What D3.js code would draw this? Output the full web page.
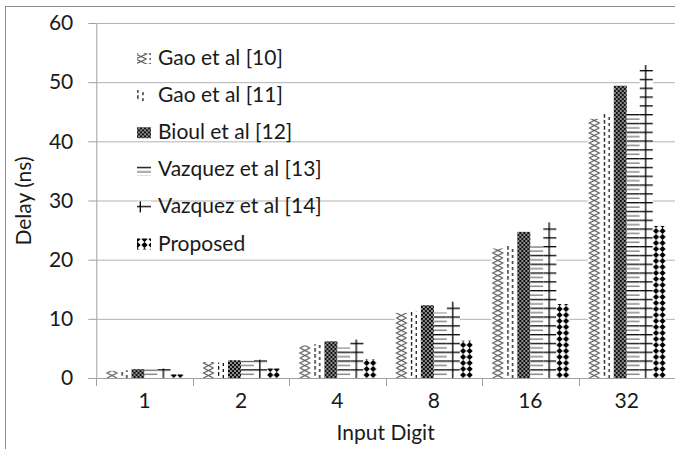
<!DOCTYPE html>
<html>
<head>
<meta charset="utf-8">
<script src="https://cdn.jsdelivr.net/npm/d3@7"></script>
<style>
  body { margin: 0; background: #fff; }
  text { font-family: Lato, "Open Sans", sans-serif; fill: #1a1a1a; }
</style>
</head>
<body>
<div id="chart"></div>
<script>
// data
var categories = ["1", "2", "4", "8", "16", "32"];
var seriesNames = ["Gao et al [10]", "Gao et al [11]", "Bioul et al [12]", "Vazquez et al [13]", "Vazquez et al [14]", "Proposed"];
var gao10    = [1.2, 2.7, 5.5, 11.0, 21.9, 43.8];
var gao11    = [1.3, 2.6, 5.7, 11.2, 22.3, 44.6];
var bioul12  = [1.5, 3.0, 6.2, 12.3, 24.7, 49.4];
var vazq13   = [1.4, 2.9, 5.2, 11.1, 22.2, 45.1];
var vazq14   = [1.6, 3.1, 6.5, 12.9, 26.3, 52.9];
var proposed = [0.6, 1.6, 3.2, 6.3, 12.5, 25.7];
var yTicks = [0, 10, 20, 30, 40, 50, 60];

var seriesValues = [gao10, gao11, bioul12, vazq13, vazq14, proposed];

var W = 675, H = 449;
var margin = {top: 23, right: 0, bottom: 71, left: 96.3}; // plot box 96..675 x 23..378
var plotW = W - margin.left - margin.right;
var plotH = H - margin.top - margin.bottom;
var fs = 21;

var svg = d3.select("#chart").append("svg")
    .attr("width", W)
    .attr("height", H);

var defs = svg.append("defs");

// outer chart frame
svg.append("rect")
    .attr("x", 5.5).attr("y", 6.5)
    .attr("width", 720).attr("height", 500)
    .attr("fill", "none")
    .attr("stroke", "#8c8c8c");

var x0 = d3.scaleBand().domain(categories).range([margin.left, margin.left + plotW]).padding(0);
var x1 = d3.scaleBand().domain(d3.range(seriesNames.length)).range([0, x0.bandwidth()]).paddingInner(0).paddingOuter(0.71);
var y = d3.scaleLinear().domain([0, 60]).range([margin.top + plotH, margin.top]);

// hatch patterns, anchored at each mark's left edge / bottom
function makePattern(id, kind, px, py, w) {
    var th = [10, 6, 4, 8.8, 8.8, 6][kind];
    var tw = kind == 2 ? 4 : (kind == 5 ? w / 2 : w);
    var p = defs.append("pattern")
        .attr("id", id)
        .attr("patternUnits", "userSpaceOnUse")
        .attr("x", px).attr("y", py)
        .attr("width", tw).attr("height", th);
    p.append("rect").attr("width", tw).attr("height", th).attr("fill", kind == 2 ? "#8c8c8c" : "#fff");
    if (kind == 0) {
        var L = 1.5, R = w - 1.5;
        p.append("path")
            .attr("d", "M" + L + ",0L" + R + ",5L" + L + ",10M" + R + ",0L" + L + ",5L" + R + ",10")
            .attr("fill", "none").attr("stroke", "#5e5e5e").attr("stroke-width", 1.2);
    } else if (kind == 1) {
        p.append("path")
            .attr("d", "M" + (w * 0.28) + ",0V3.8M" + (w * 0.64) + ",3V6.8")
            .attr("stroke", "#000").attr("stroke-width", 1.2);
    } else if (kind == 2) {
        p.append("rect").attr("x", 0).attr("y", 0).attr("width", 2).attr("height", 2).attr("fill", "#111");
        p.append("rect").attr("x", 2).attr("y", 2).attr("width", 2).attr("height", 2).attr("fill", "#111");
    } else if (kind == 3) {
        p.append("path").attr("d", "M0,0.7H" + w).attr("stroke", "#000").attr("stroke-width", 1.3);
        p.append("path").attr("d", "M0,5.1H" + w).attr("stroke", "#777").attr("stroke-width", 1.3);
    } else if (kind == 4) {
        p.append("path").attr("d", "M" + (w * 0.45) + ",0V8.8").attr("stroke", "#000").attr("stroke-width", 1.3);
        p.append("path").attr("d", "M0,0.7H" + w).attr("stroke", "#000").attr("stroke-width", 1.3);
    } else {
        var cx = tw / 2, r = 3.1;
        p.append("path")
            .attr("d", "M" + cx + "," + (3 - r) + "L" + (cx + r) + ",3L" + cx + "," + (3 + r) + "L" + (cx - r) + ",3Z")
            .attr("fill", "#000");
    }
    return "url(#" + id + ")";
}

// gridlines
svg.append("g")
    .attr("transform", "translate(" + margin.left + ",0)")
    .call(d3.axisLeft(y).tickValues(yTicks.slice(1)).tickSize(-plotW).tickFormat(""))
    .call(function(g) {
        g.select(".domain").remove();
        g.selectAll("line").attr("stroke", "#b3b3b3");
    });

// bars
var bars = [];
seriesValues.forEach(function(vals, s) {
    vals.forEach(function(v, c) {
        bars.push({s: s, cat: categories[c], v: v});
    });
});

svg.append("g").selectAll("rect")
    .data(bars)
    .enter().append("rect")
    .attr("x", function(d) { return x0(d.cat) + x1(d.s); })
    .attr("y", function(d) { return y(d.v); })
    .attr("width", x1.bandwidth())
    .attr("height", function(d) { return y(0) - y(d.v); })
    .attr("fill", function(d, i) {
        return makePattern("pb" + i, d.s, x0(d.cat) + x1(d.s), y(0), x1.bandwidth());
    });

// y axis
var yAxisG = svg.append("g")
    .attr("transform", "translate(" + margin.left + ",0)")
    .call(d3.axisLeft(y).tickValues(yTicks).tickSize(8).tickPadding(15));
yAxisG.select(".domain").attr("stroke", "#a0a0a0").attr("d", "M0.5," + y(60) + "V" + y(0));
yAxisG.selectAll("line").attr("stroke", "#a0a0a0");
yAxisG.selectAll("text").attr("font-size", fs).style("font-family", "Lato").attr("fill", "#1a1a1a");

// x axis: boundary ticks, labels centred in each band
var xAxisG = svg.append("g").attr("transform", "translate(0," + y(0) + ")");
xAxisG.append("line")
    .attr("x1", margin.left - 8).attr("x2", W)
    .attr("y1", 0.5).attr("y2", 0.5)
    .attr("stroke", "#a0a0a0");
xAxisG.selectAll(".bt")
    .data(categories)
    .enter().append("line")
    .attr("class", "bt")
    .attr("x1", function(d) { return Math.round(x0(d)) + 0.5; })
    .attr("x2", function(d) { return Math.round(x0(d)) + 0.5; })
    .attr("y1", 0).attr("y2", 8)
    .attr("stroke", "#a0a0a0");
xAxisG.selectAll(".xl")
    .data(categories)
    .enter().append("text")
    .attr("class", "xl")
    .attr("x", function(d) { return x0(d) + x0.bandwidth() / 2; })
    .attr("y", 30)
    .attr("text-anchor", "middle")
    .attr("font-size", fs)
    .text(function(d) { return d; });

// axis titles
svg.append("text")
    .attr("x", margin.left + plotW / 2)
    .attr("y", 440)
    .attr("text-anchor", "middle")
    .attr("font-size", fs)
    .text("Input Digit");

svg.append("text")
    .attr("transform", "translate(31," + 201 + ") rotate(-90)")
    .attr("text-anchor", "middle")
    .attr("font-size", fs)
    .text("Delay (ns)");

// legend
var legend = svg.append("g").selectAll("g")
    .data(seriesNames)
    .enter().append("g")
    .attr("transform", function(d, i) { return "translate(137," + (65 + i * 37.1) + ")"; });

legend.append("rect")
    .attr("x", 0).attr("y", -12)
    .attr("width", 14).attr("height", 11)
    .attr("fill", function(d, i) {
        return makePattern("pl" + i, i, 137, 65 + i * 37.1 - 1, 14);
    });

legend.append("text")
    .attr("x", 21)
    .attr("y", 0)
    .attr("font-size", fs)
    .text(function(d) { return d; });
</script>
</body>
</html>
